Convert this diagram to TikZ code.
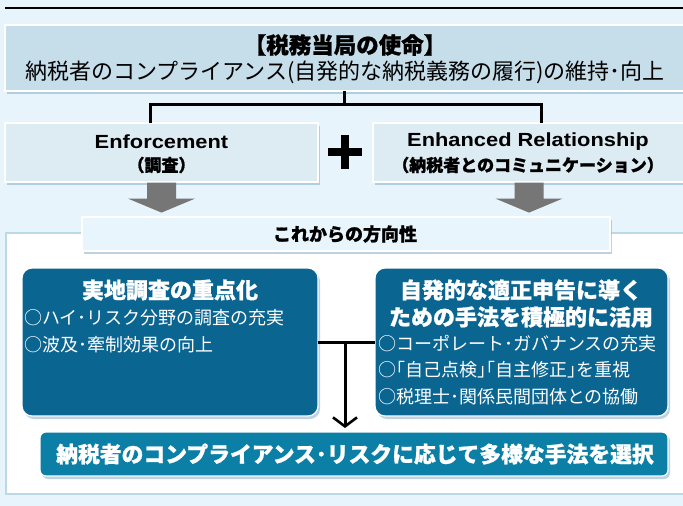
\documentclass[tikz,border=0pt]{standalone}
\usepackage{fontspec}
\setmainfont{Noto Sans CJK JP}[BoldFeatures={FakeBold=1}]
\newfontfamily\lat[FakeStretch=1.15]{Liberation Sans}
\usetikzlibrary{shadows,arrows.meta}
\definecolor{bgc}{HTML}{E7F4FC}
\definecolor{topc}{HTML}{C6DDEA}
\definecolor{midc}{HTML}{DDEBF3}
\definecolor{dirc}{HTML}{E9F5FC}
\definecolor{darkc}{HTML}{0B6591}
\definecolor{botc}{HTML}{0B7FA5}
\definecolor{shc}{HTML}{7FA9C2}
\definecolor{grayc}{HTML}{767676}
\definecolor{panelc}{HTML}{BCD9E8}
\tikzset{
  shad/.style={drop shadow={shadow xshift=2pt,shadow yshift=-3pt,opacity=0.5,fill=shc}},
  lightbox/.style={draw=white,line width=1.2pt,inner sep=0pt,outer sep=0pt,shad},
  darkbox/.style={fill=darkc,draw=white,line width=1.2pt,rounded corners=10pt,inner sep=0pt,outer sep=0pt,shad},
  txt/.style={inner sep=0pt,outer sep=0pt,font=\fontsize{18}{22}\selectfont},
  conn/.style={line width=3pt,black},
  garrow/.style={fill=grayc}
}
\begin{document}
\begin{tikzpicture}[x=1pt,y=-1pt]
\useasboundingbox (0,0) rectangle (683,506);
\fill[bgc] (0,0) rectangle (683,506);
\coordinate (tl) at (5,8);
\coordinate (tr) at (683,8);
\draw[line width=1.4pt] (tl) -- (tr);

% mission box
\node[lightbox,fill=topc,minimum width=679pt,minimum height=66pt] (mission) at (344.5,58) {};
\node[txt,font=\bfseries\fontsize{22.5}{26}\selectfont] (missionhead) at (345,45) {【税務当局の使命】};
\node[txt,font=\fontsize{22}{26}\selectfont] (missiontxt) at (345,72) {納税者のコンプライアンス(自発的な納税義務の履行)の維持･向上};

% two pillars
\node[lightbox,fill=midc,minimum width=313pt,minimum height=59pt] (enf) at (161.5,152.5) {};
\node[lightbox,fill=midc,minimum width=312pt,minimum height=59pt] (rel) at (529,152.5) {};
\node[txt] (enf1) at (161.5,142) {\lat\bfseries\fontsize{19}{22}\selectfont Enforcement};
\node[txt] (enf2) at (161.5,165) {\bfseries\fontsize{17}{20}\selectfont （調査）};
\node[txt] (rel1) at (528,142) {\lat\bfseries\fontsize{19}{22}\selectfont Enhanced Relationship};
\node[txt] (rel2) at (528,165) {\bfseries\fontsize{17}{20}\selectfont （納税者とのコミュニケーション）};

% connectors from mission
\coordinate (c1) at (150,104);
\coordinate (c2) at (541,104);
\draw[conn] (mission.south) -- (mission.south |- c1);
\draw[conn,line join=miter] (c1 |- enf.north) -- (c1) -- (c2) -- (c2 |- rel.north);

% plus
\coordinate (plus) at (345,152);
\draw[line width=7.5pt] (plus) ++(-17,0) -- ++(34,0);
\draw[line width=7.5pt] (plus) ++(0,-17) -- ++(0,34);

% panel
\node[fill=white,draw=panelc,line width=2pt,minimum width=678pt,minimum height=261pt,inner sep=0pt,anchor=north west] (panel) at (5,232) {};

% gray arrows
\fill[garrow] ([xshift=-14.5pt,yshift=-0.6pt]enf.south) -- ([xshift=14.5pt,yshift=-0.6pt]enf.south) -- ++(0,16) -- ++(19,0) -- ++(-33.5,14) -- ++(-33.5,-14) -- ++(19,0) -- cycle;
\fill[garrow] ([xshift=-14.5pt,yshift=-0.6pt]rel.south) -- ([xshift=14.5pt,yshift=-0.6pt]rel.south) -- ++(0,16) -- ++(19,0) -- ++(-33.5,14) -- ++(-33.5,-14) -- ++(19,0) -- cycle;

% direction box
\node[lightbox,fill=dirc,minimum width=528pt,minimum height=34pt] (dir) at (346,234) {};
\node[txt] (dirtxt) at (345,234) {\bfseries これからの方向性};

% dark boxes
\node[darkbox,minimum width=296pt,minimum height=148pt] (lb) at (170,342) {};
\node[darkbox,minimum width=293pt,minimum height=148pt] (rb) at (521.5,342) {};
\node[txt,text=white,font=\bfseries\fontsize{22}{26}\selectfont] (lh) at (170,290) {実地調査の重点化};
\node[txt,text=white,anchor=west] (l1) at (24,318) {○ハイ･リスク分野の調査の充実};
\node[txt,text=white,anchor=west] (l2) at (24,345) {○波及･牽制効果の向上};
\node[txt,text=white,font=\bfseries\fontsize{22}{26}\selectfont] (rh1) at (521,290) {自発的な適正申告に導く};
\node[txt,text=white,font=\bfseries\fontsize{22}{26}\selectfont] (rh2) at (521,317) {ための手法を積極的に活用};
\node[txt,text=white,anchor=west] (r1) at (378,344) {○コーポレート･ガバナンスの充実};
\node[txt,text=white,anchor=west] (r2) at (378,370) {○｢自己点検｣｢自主修正｣を重視};
\node[txt,text=white,anchor=west] (r3) at (378,397) {○税理士･関係民間団体との協働};

% bottom box
\node[darkbox,fill=botc,rounded corners=6pt,minimum width=628pt,minimum height=44pt] (bot) at (354,454) {};
\node[txt,text=white,font=\bfseries\fontsize{21.8}{24}\selectfont] (bottxt) at (355,454) {納税者のコンプライアンス･リスクに応じて多様な手法を選択};

% T connector
\coordinate (tj) at (345,342);
\draw[conn] (lb.east) -- (rb.west);
\draw[conn,-{Straight Barb[length=9pt,width=24pt,line width=2.6pt]}] (tj) -- ([yshift=4pt]bot.north -| tj);
\end{tikzpicture}
\end{document}
